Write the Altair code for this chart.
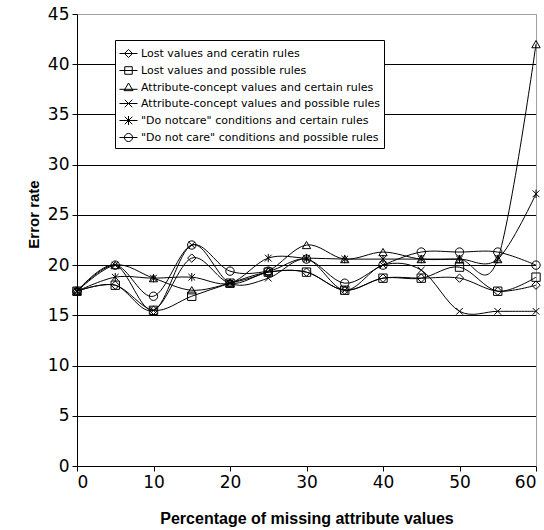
import altair as alt
import pandas as pd

pct = [0, 5, 10, 15, 20, 25, 30, 35, 40, 45, 50, 55, 60]
series_names = [
    "Lost values and ceratin rules",
    "Lost values and possible rules",
    "Attribute-concept values and certain rules",
    "Attribute-concept values and possible rules",
    "\"Do notcare\" conditions and certain rules",
    "\"Do not care\" conditions and possible rules",
]
lost_certain = [17.4, 18.0, 15.5, 20.7, 18.2, 19.3, 19.3, 17.5, 18.7, 18.7, 18.7, 17.4, 18.0]
lost_possible = [17.4, 18.0, 15.5, 16.9, 18.2, 19.3, 19.3, 17.5, 18.7, 18.7, 19.8, 17.4, 18.8]
ac_certain = [17.4, 20.0, 18.7, 17.5, 18.2, 19.4, 22.0, 20.6, 21.3, 20.6, 20.6, 20.6, 42.0]
ac_possible = [17.4, 20.0, 15.5, 22.0, 18.2, 18.7, 20.6, 17.5, 20.0, 19.5, 15.4, 15.4, 15.4]
dnc_certain = [17.4, 18.8, 18.7, 18.8, 18.2, 20.7, 20.7, 20.6, 20.6, 20.6, 20.6, 20.6, 27.1]
dnc_possible = [17.4, 20.0, 16.9, 22.0, 19.4, 19.4, 20.6, 18.2, 20.0, 21.3, 21.3, 21.3, 20.0]
all_values = [lost_certain, lost_possible, ac_certain, ac_possible, dnc_certain, dnc_possible]

rows = []
for name, vals in zip(series_names, all_values):
    for x, v in zip(pct, vals):
        rows.append({"series": name, "pct": x, "err": v})
df = pd.DataFrame(rows)

marker_shapes = [
    "diamond",
    "square",
    "triangle-up",
    "M-0.8,-0.8L0.8,0.8M0.8,-0.8L-0.8,0.8",
    "M-0.8,-0.8L0.8,0.8M0.8,-0.8L-0.8,0.8M0,-1L0,1",
    "circle",
]
legend_shapes = [
    "M-1,0L1,0M0,-0.45L0.45,0L0,0.45L-0.45,0Z",
    "M-1,0L1,0M-0.42,-0.42L0.42,-0.42L0.42,0.42L-0.42,0.42Z",
    "M-1,0.2L1,0.2M0,-0.5L0.5,0.35L-0.5,0.35Z",
    "M-1,0L1,0M-0.42,-0.42L0.42,0.42M0.42,-0.42L-0.42,0.42",
    "M-1,0L1,0M-0.42,-0.42L0.42,0.42M0.42,-0.42L-0.42,0.42M0,-0.5L0,0.5",
    "M-1,0L1,0M0.45,0A0.45,0.45 0 1 1 -0.45,0A0.45,0.45 0 1 1 0.45,0",
]

x_enc = alt.X(
    "pct:Q",
    scale=alt.Scale(domain=[0, 60], nice=False),
    axis=alt.Axis(
        values=[0, 10, 20, 30, 40, 50, 60],
        grid=False,
        tickSize=5,
        tickColor="black",
        domainColor="black",
        labelPadding=3,
        labelFont="DejaVu Sans",
        labelFontSize=17,
        labelColor="black",
        title="Percentage of missing attribute values",
        titleFont="Liberation Sans",
        titleFontSize=16,
        titleFontWeight="bold",
        titleColor="black",
        titleY=57,
        titleBaseline="alphabetic",
    ),
)
y_enc = alt.Y(
    "err:Q",
    scale=alt.Scale(domain=[0, 45], nice=False),
    axis=alt.Axis(
        values=[0, 5, 10, 15, 20, 25, 30, 35, 40, 45],
        grid=True,
        gridColor={"condition": {"test": "datum.value === 45", "value": "#a0a0a0"}, "value": "black"},
        gridWidth=1,
        tickSize=5,
        tickColor="black",
        domainColor="black",
        labelPadding=3,
        labelFont="DejaVu Sans",
        labelFontSize=17,
        labelColor="black",
        title="Error rate",
        titleFont="Liberation Sans",
        titleFontSize=15,
        titleFontWeight="bold",
        titleColor="black",
        titleX=-39,
        titleY=200,
        titleAlign="center",
        titleBaseline="alphabetic",
        titleAngle=270,
    ),
)

base = alt.Chart(df)

lines = base.mark_line(interpolate="cardinal", color="black", strokeWidth=1).encode(
    x=x_enc, y=y_enc, detail="series:N"
)

points = base.mark_point(filled=False, color="black", size=70, strokeWidth=1, opacity=1).encode(
    x=alt.X("pct:Q", axis=None),
    y=alt.Y("err:Q", axis=None),
    shape=alt.Shape(
        "series:N",
        scale=alt.Scale(domain=series_names, range=marker_shapes),
        legend=None,
    ),
)

legend_layer = base.mark_point(filled=False, color="black", opacity=0).encode(
    x=alt.X("pct:Q", axis=None),
    y=alt.Y("err:Q", axis=None),
    shape=alt.Shape(
        "series:N",
        scale=alt.Scale(domain=series_names, range=legend_shapes),
        legend=alt.Legend(
            title=None,
            orient="none",
            legendX=38,
            legendY=26,
            symbolSize=324,
            symbolOpacity=1,
            symbolStrokeColor="black",
            symbolFillColor="transparent",
            symbolStrokeWidth=1,
            labelFont="DejaVu Sans",
            labelFontSize=11,
            labelColor="black",
            labelOffset=3,
            labelLimit=400,
            rowPadding=1,
            padding=4,
            strokeColor="black",
            fillColor="white",
        ),
    ),
)

frame = base.mark_point(opacity=0).encode(
    x=alt.X("pct:Q", axis=alt.Axis(orient="top", labels=False, ticks=False, title=None, grid=False, domainColor="#a0a0a0")),
    y=alt.Y("err:Q", axis=alt.Axis(orient="right", labels=False, ticks=False, title=None, grid=False, domainColor="#a0a0a0")),
)

chart = (
    alt.layer(lines, points, legend_layer, frame)
    .resolve_scale(shape="independent")
    .resolve_axis(x="independent", y="independent")
    .properties(
        width=459,
        height=452,
        autosize=alt.AutoSizeParams(type="none"),
        padding={"left": 77, "top": 14, "right": 8, "bottom": 64},
        background="white",
    )
    .configure_view(stroke=None)
)

chart.save("out.html", embed_options={"renderer": "svg", "actions": False})
